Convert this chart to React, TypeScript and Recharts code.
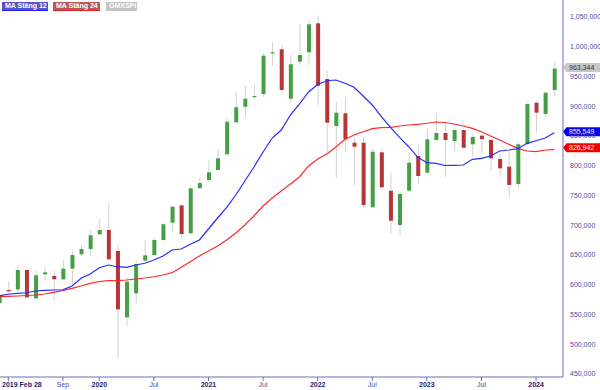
import React from 'react';
import { ComposedChart, Bar, Line, XAxis, YAxis, ReferenceLine } from 'recharts';

const months = [
  '2019-02', '2019-03', '2019-04', '2019-05', '2019-06', '2019-07', '2019-08', '2019-09', '2019-10', '2019-11', '2019-12',
  '2020-01', '2020-02', '2020-03', '2020-04', '2020-05', '2020-06', '2020-07', '2020-08', '2020-09', '2020-10', '2020-11', '2020-12',
  '2021-01', '2021-02', '2021-03', '2021-04', '2021-05', '2021-06', '2021-07', '2021-08', '2021-09', '2021-10', '2021-11', '2021-12',
  '2022-01', '2022-02', '2022-03', '2022-04', '2022-05', '2022-06', '2022-07', '2022-08', '2022-09', '2022-10', '2022-11', '2022-12',
  '2023-01', '2023-02', '2023-03', '2023-04', '2023-05', '2023-06', '2023-07', '2023-08', '2023-09', '2023-10', '2023-11', '2023-12',
  '2024-01', '2024-02', '2024-03',
];

const opens = [
  569300, 591200, 592000, 624800, 577200, 617600, 614700, 609200, 627000, 651200, 660100,
  684800, 692000, 656700, 545300, 585600, 640400, 650000, 675200, 704300, 733500, 686500, 762100,
  776100, 792900, 819300, 873000, 899300, 915600, 920600, 989000, 995700, 912700, 974900, 990700,
  1039400, 945800, 866800, 888200, 838700, 838700, 730200, 822600, 758100, 700400, 758100, 816400,
  788300, 843300, 855000, 841600, 860100, 836100, 850500, 843300, 811400, 798400, 769300, 836600,
  906000, 887000, 927300,
];
const highs = [
  586000, 606300, 631500, 628200, 623600, 629300, 623600, 641600, 657200, 666800, 692000,
  710000, 736900, 668000, 613500, 639900, 675200, 678600, 704300, 732400, 735000, 766000, 780000,
  809700, 828200, 879800, 924500, 935700, 935700, 989000, 1007500, 1003000, 986100, 1037700, 1045000,
  1052200, 959800, 907700, 916100, 846100, 847800, 829300, 830300, 789000, 756400, 821900, 834900,
  861800, 888200, 870200, 862900, 861800, 854500, 851700, 846100, 820900, 823600, 840400, 905000,
  907700, 924500, 974900,
];
const lows = [
  566000, 582800, 588300, 576100, 575500, 606800, 574400, 608000, 601300, 648300, 647800,
  683600, 641600, 476400, 530700, 568800, 638700, 648300, 673500, 690800, 678100, 685300, 760900,
  773200, 791700, 818100, 871400, 881400, 913000, 916100, 967700, 922800, 905000, 969300, 969300,
  900900, 823600, 778900, 825300, 767700, 730200, 728500, 760400, 685300, 683600, 756400, 769300,
  787300, 840400, 781600, 824800, 827700, 815200, 820900, 791700, 781600, 748000, 762100, 834900,
  855600, 879800, 917200,
];
const closes = [
  582800, 589000, 624800, 578900, 615900, 620900, 609200, 627000, 650000, 660100, 683100,
  692000, 642800, 558700, 605100, 634900, 649500, 675200, 701600, 731200, 685300, 762100, 771000,
  789000, 812500, 874000, 898200, 912700, 917300, 985000, 990700, 927300, 970500, 986100, 1037700,
  934500, 872400, 889200, 844500, 832000, 734000, 823600, 763800, 707700, 752500, 805100, 782800,
  844500, 855000, 843300, 860100, 830300, 848300, 844500, 812500, 795700, 767700, 836100, 903800,
  889200, 922800, 963344,
];
const ma12 = [
  581500, 584000, 585600, 586600, 589500, 590700, 591200, 591500, 597900, 610800, 618100,
  628700, 633200, 630300, 629300, 633200, 636100, 641600, 648300, 658400, 660100, 668000, 675200,
  693700, 712200, 730000, 750800, 774400, 797900, 823100, 846600, 860100, 885300, 903800, 924000,
  936600, 942900, 944100, 938600, 931900, 917200, 902100, 882400, 864600, 847800, 832000, 814200,
  805100, 804100, 800400, 800800, 801300, 810800, 812500, 816400, 824800, 826500, 828700, 837700,
  842100, 846600, 855549,
];
const ma24 = [
  579900, 580600, 581100, 581900, 582800, 584500, 587300, 590300, 594000, 597900, 602400,
  605500, 606800, 606800, 608000, 609700, 611300, 613500, 616400, 620300, 629300, 638700, 648300,
  656700, 665100, 675200, 687000, 700400, 715600, 732400, 745800, 757600, 769300, 781100, 799600,
  811400, 819800, 831500, 844500, 851700, 857200, 862300, 864000, 864600, 866800, 868500, 869700,
  871400, 873500, 872700, 870200, 866800, 862900, 857200, 850000, 843300, 836100, 829300, 824800,
  823600, 826500, 826942,
];

const xTickIndex = [1, 7, 11, 17, 23, 29, 35, 41, 47, 53, 59];
const xTickLabels = ['2019 Feb 28', 'Sep', '2020', 'Jul', '2021', 'Jul', '2022', 'Jul', '2023', 'Jul', '2024'];
const xTickBold = [true, false, true, false, true, false, true, false, true, false, true];
const yTicks = [450000, 500000, 550000, 600000, 650000, 700000, 750000, 800000, 850000, 900000, 950000, 1000000, 1050000];

const data = months.map((m, i) => ({
  i,
  month: m,
  open: opens[i],
  high: highs[i],
  low: lows[i],
  close: closes[i],
  ma12: ma12[i],
  ma24: ma24[i],
}));

const FONT = '"Liberation Sans", Arial, sans-serif';
const AXIS = '#6c6cc4';
const LBL = '#4a4aa6';

const Candle = (props: any) => {
  const { x, y, width, height, payload } = props;
  if (x == null || y == null) return null;
  const { open, close, high, low } = payload;
  const range = high - low || 1;
  const yOf = (v: number) => y + ((high - v) / range) * height;
  const up = close >= open;
  const top = yOf(Math.max(open, close));
  const bot = yOf(Math.min(open, close));
  const cx = x + width / 2;
  return (
    <g>
      <line x1={cx} x2={cx} y1={y} y2={y + height} stroke="#d2d2d2" strokeWidth={1} />
      <rect x={x} y={top} width={width} height={Math.max(bot - top, 1.2)} fill={up ? '#45a045' : '#b53538'} />
    </g>
  );
};

const XTick = (props: any) => {
  const { x, payload } = props;
  const k = xTickIndex.indexOf(payload.value);
  if (k < 0) return null;
  const first = k === 0;
  return (
    <text
      x={first ? 2 : x}
      y={387}
      textAnchor={first ? 'start' : 'middle'}
      fontSize={7}
      fontFamily={FONT}
      fontWeight={xTickBold[k] ? 'bold' : 'normal'}
      fill={xTickBold[k] ? '#23236e' : LBL}
    >
      {xTickLabels[k]}
    </text>
  );
};

const Tag = (props: any) => {
  const { viewBox, text, bg, color, shift = 0 } = props;
  if (!viewBox) return null;
  const left = viewBox.x + viewBox.width;
  const cy = viewBox.y + shift;
  const h = 4.5;
  const pts = `${left},${cy} ${left + 3.5},${cy - h} 600,${cy - h} 600,${cy + h} ${left + 3.5},${cy + h}`;
  return (
    <g>
      <polygon points={pts} fill={bg} />
      <text x={left + 6} y={cy + 2.5} fontSize={7} fontFamily={FONT} fill={color}>
        {text}
      </text>
    </g>
  );
};

const fmt = (v: number) => v.toLocaleString('en-US');

const legendItems = [
  { label: 'MA Stäng 12', bg: '#5656c4', border: '#1e1ee6', left: 2, width: 46 },
  { label: 'MA Stäng 24', bg: '#b45a5a', border: '#e62020', left: 53, width: 47 },
  { label: 'OMXSPI', bg: '#c4c4c4', border: '#c4c4c4', left: 106, width: 31 },
];

export default function App() {
  const last = data.length - 1;
  return (
    <div style={{ position: 'absolute', left: 0, top: 0, width: 600, height: 390, background: '#fff', overflow: 'hidden' }}>
      <ComposedChart width={600} height={390} data={data} margin={{ top: 0, right: 0, bottom: 0, left: 0 }}>
        <XAxis
          dataKey="i"
          type="number"
          domain={[0.088, 61.96]}
          allowDataOverflow
          ticks={xTickIndex}
          height={13}
          tickSize={4}
          axisLine={{ stroke: AXIS }}
          tickLine={{ stroke: AXIS }}
          tick={<XTick />}
          interval={0}
        />
        <YAxis
          orientation="right"
          type="number"
          domain={[444958, 1078578]}
          allowDataOverflow
          ticks={yTicks}
          width={37}
          tickLine={false}
          tickSize={6}
          tickMargin={1}
          axisLine={{ stroke: AXIS }}
          tickFormatter={fmt}
          tick={{ fontSize: 7, fill: LBL, fontFamily: FONT }}
          interval={0}
        />
        <Bar
          dataKey={(d: any) => [d.low, d.high]}
          barSize={4}
          shape={(p: any) => <Candle {...p} />}
          isAnimationActive={false}
        />
        <Line dataKey="ma24" stroke="#ff2a2a" strokeWidth={1.2} dot={false} isAnimationActive={false} />
        <Line dataKey="ma12" stroke="#2a2aff" strokeWidth={1.2} dot={false} isAnimationActive={false} />
        <ReferenceLine
          y={closes[last]}
          stroke="none"
          label={<Tag text={fmt(closes[last])} bg="#c8c8c8" color="#333" shift={-1} />}
        />
        <ReferenceLine
          y={ma12[last]}
          stroke="none"
          label={<Tag text={fmt(ma12[last])} bg="#0000f0" color="#fff" shift={-1} />}
        />
        <ReferenceLine
          y={ma24[last]}
          stroke="none"
          label={<Tag text={fmt(ma24[last])} bg="#f00000" color="#fff" shift={-2} />}
        />
      </ComposedChart>
      {legendItems.map((it) => (
        <div
          key={it.label}
          style={{
            position: 'absolute',
            left: it.left,
            top: 2,
            width: it.width,
            height: 9,
            boxSizing: 'border-box',
            background: it.bg,
            borderBottom: `1.5px solid ${it.border}`,
            color: '#fff',
            fontFamily: FONT,
            fontSize: 7,
            fontWeight: 'bold',
            lineHeight: '8px',
            paddingLeft: 3,
            whiteSpace: 'nowrap',
          }}
        >
          {it.label}
        </div>
      ))}
    </div>
  );
}
